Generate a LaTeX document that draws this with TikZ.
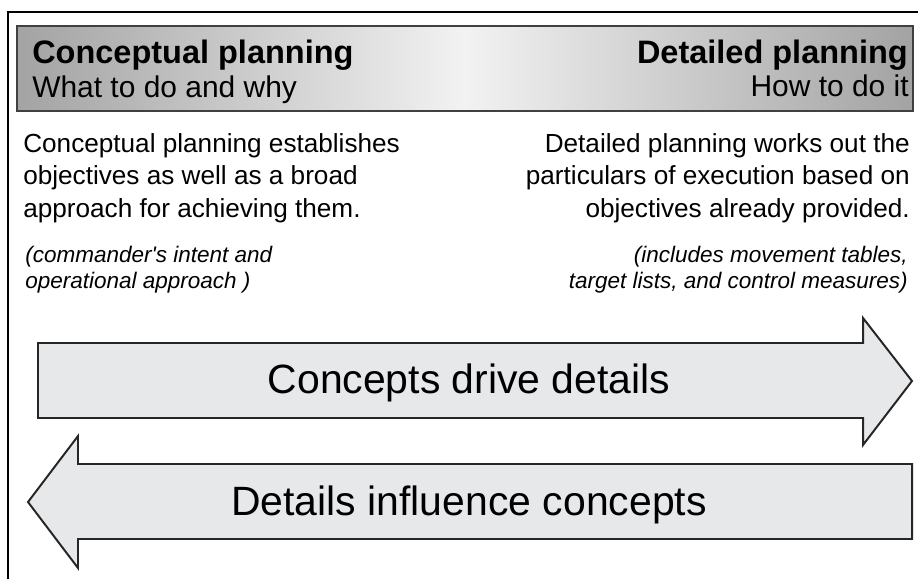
\documentclass[tikz,border=0pt]{standalone}
\usepackage{fontspec}
\setmainfont{Liberation Sans}
\definecolor{bargray}{HTML}{A3A3A3}
\definecolor{barlight}{HTML}{F2F2F2}
\definecolor{arrowgray}{HTML}{E6E8EA}
\begin{document}
\begin{tikzpicture}[x=0.025cm,y=-0.025cm,
    headtext/.style={inner sep=0pt, font=\fontsize{23.1}{26}\selectfont\bfseries},
    subtext/.style={inner sep=0pt, font=\fontsize{21.3}{24}\selectfont},
    bodytext/.style={inner sep=0pt, font=\fontsize{18.6}{22.8}\selectfont},
    notetext/.style={inner sep=0pt, font=\fontsize{16}{17.8}\selectfont\itshape},
    arrowtext/.style={inner sep=0pt, font=\fontsize{29.1}{32}\selectfont},
    bigarrow/.style={draw=black!85, line width=1.4pt, fill=arrowgray, line join=miter}]

    \useasboundingbox (0,0) rectangle (918,579);

    % Frame
    \draw[line width=1.6pt] (8,579) -- (8,12) -- (918,12);

    % Header bar
    \draw[draw=black!75, line width=1.4pt, left color=bargray, right color=bargray,
        middle color=barlight] (17,26) rectangle (913,111);
    \node[headtext, anchor=base west] (conchead) at (32,63) {Conceptual planning};
    \node[subtext, anchor=base west] (concsub) at (32,97) {What to do and why};
    \node[headtext, anchor=base east] (dethead) at (908,63) {Detailed planning};
    \node[subtext, anchor=base east] (detsub) at (909,96) {How to do it};

    % Descriptions (base = last line)
    \node[bodytext, anchor=base west, align=left] (concdesc) at (23,217)
        {Conceptual planning establishes\\objectives as well as a broad\\approach for achieving them.};
    \node[bodytext, anchor=base east, align=right] (detdesc) at (910,217)
        {Detailed planning works out the\\particulars of execution based on\\objectives already provided.};
    \node[notetext, anchor=base west, align=left] (concnote) at (25,288)
        {(commander\textquotesingle s intent and\\operational approach )};
    \node[notetext, anchor=base east, align=right] (detnote) at (908,288)
        {(includes movement tables,\\target lists, and control measures)};

    % Arrows
    \draw[bigarrow] (38,343) -- (863,343) -- (863,318) -- (912,381) -- (863,445)
        -- (863,418) -- (38,418) -- cycle;
    \draw[bigarrow] (912,464) -- (78,464) -- (78,436) -- (28,502) -- (78,568)
        -- (78,539) -- (912,539) -- cycle;
    \node[arrowtext, anchor=base] (drive) at (469,393) {Concepts drive details};
    \node[arrowtext, anchor=base] (influence) at (469,515) {Details influence concepts};

\end{tikzpicture}
\end{document}
